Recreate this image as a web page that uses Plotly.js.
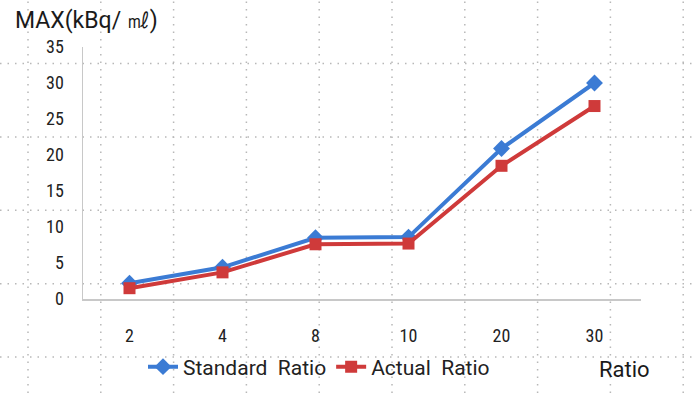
<!DOCTYPE html>
<html>
<head>
<meta charset="utf-8">
<script src="https://cdn.plot.ly/plotly-3.0.1.min.js"></script>
<style>html,body{margin:0;padding:0;background:#fff;}#chart{width:694px;height:393px;}</style>
</head>
<body>
<div id="chart"></div>
<script>
const categories = ['2', '4', '8', '10', '20', '30'];
const standardRatio = [2.2, 4.4, 8.5, 8.6, 20.9, 30.0];
const actualRatio = [1.5, 3.7, 7.6, 7.7, 18.5, 26.8];
const yTicks = [0, 5, 10, 15, 20, 25, 30, 35];
const seriesNames = ['Standard\u00a0\u00a0Ratio', 'Actual\u00a0\u00a0Ratio'];

const W = 694, H = 393;
const NARROW = 'Roboto Condensed, DejaVu Sans Condensed, Liberation Sans Narrow, Liberation Sans, sans-serif';
const WIDE = 'Roboto, Liberation Sans, sans-serif';

// decorative background dotted grid (page grid behind the chart)
const shapes = [];
for (let k = 0; k < 10; k++) {
  const px = 28 + 72.8 * k;
  shapes.push({type: 'line', xref: 'paper', yref: 'paper', x0: px / W, x1: px / W, y0: 0, y1: 1,
    layer: 'below', line: {color: '#b8b8b8', width: 1.5, dash: '1.5px,6px'}});
}
for (let k = 0; k < 5; k++) {
  const py = 63.5 + 73.4 * k;
  shapes.push({type: 'line', xref: 'paper', yref: 'paper', x0: 0, x1: 1, y0: 1 - py / H, y1: 1 - py / H,
    layer: 'below', line: {color: '#b8b8b8', width: 1.5, dash: '1.5px,6px'}});
}

const traces = [
  {x: categories, y: standardRatio, name: seriesNames[0], type: 'scatter', mode: 'lines+markers',
   line: {color: '#3b7bd4', width: 4}, marker: {symbol: 'diamond', size: 13, color: '#3b7bd4'}},
  {x: categories, y: actualRatio, name: seriesNames[1], type: 'scatter', mode: 'lines+markers',
   line: {color: '#cf3a3a', width: 4}, marker: {symbol: 'square', size: 12, color: '#cf3a3a'}}
];

const layout = {
  width: W, height: H,
  margin: {l: 0, r: 0, t: 0, b: 0},
  paper_bgcolor: '#ffffff',
  plot_bgcolor: 'rgba(0,0,0,0)',
  font: {family: NARROW, color: '#222', size: 16},
  showlegend: true,
  shapes: shapes,
  xaxis: {
    domain: [83 / W, 641 / W], type: 'category', range: [-0.5, 5.5],
    showgrid: false, zeroline: false, showline: true, linecolor: '#c8c8c8', linewidth: 1.5,
    ticks: 'outside', ticklen: 20, tickcolor: 'rgba(0,0,0,0)',
    tickfont: {family: NARROW, size: 18, color: '#222'}, fixedrange: true
  },
  yaxis: {
    domain: [94 / H, 346 / H], range: [0, 35], tickvals: yTicks,
    showgrid: false, zeroline: false, showline: true, linecolor: '#c8c8c8', linewidth: 1.5,
    ticks: 'outside', ticklen: 14, tickcolor: 'rgba(0,0,0,0)',
    tickfont: {family: NARROW, size: 18, color: '#222'}, fixedrange: true
  },
  legend: {
    orientation: 'h', x: 143 / W, xanchor: 'left', y: 1 - 367 / H, yanchor: 'middle',
    font: {family: WIDE, size: 21, color: '#222'}, bgcolor: 'rgba(0,0,0,0)',
    itemwidth: 30, tracegroupgap: 0
  },
  annotations: [
    {text: 'MAX(kBq/ ㎖)', xref: 'paper', yref: 'paper', x: 13 / W, xanchor: 'left',
     y: 1 - 20 / H, yanchor: 'middle', showarrow: false,
     font: {family: WIDE, size: 23, color: '#1a1a1a'}},
    {text: 'Ratio', xref: 'paper', yref: 'paper', x: 597 / W, xanchor: 'left',
     y: 1 - 369 / H, yanchor: 'middle', showarrow: false,
     font: {family: WIDE, size: 22, color: '#1a1a1a'}}
  ]
};

Plotly.newPlot('chart', traces, layout, {displayModeBar: false, staticPlot: true});
</script>
</body>
</html>
